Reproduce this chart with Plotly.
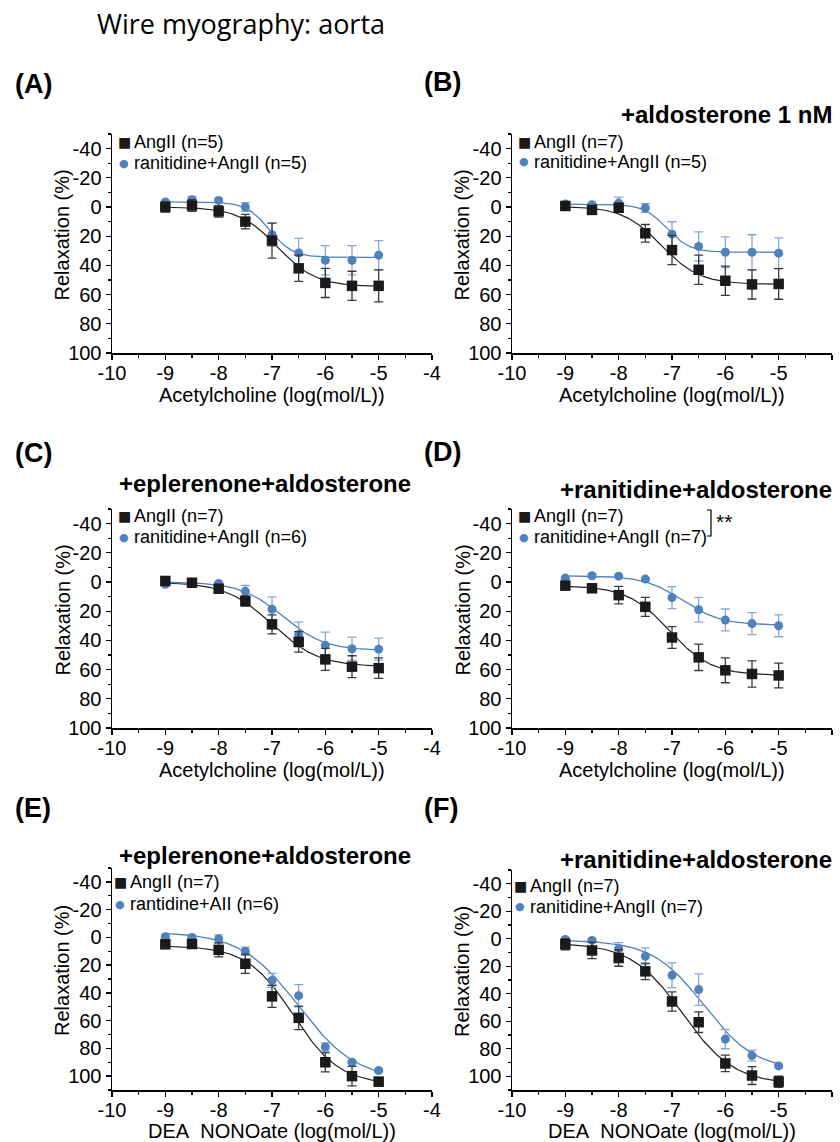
import numpy as np
import plotly.graph_objects as go

W, H = 840, 1142

# ---------------- data ----------------
doses = [-9, -8.5, -8, -7.5, -7, -6.5, -6, -5.5, -5]

x_ticks = [-10, -9, -8, -7, -6, -5, -4]
x_ticklabels = ["-10", "-9", "-8", "-7", "-6", "-5", "-4"]
y_ticks = [-40, -20, 0, 20, 40, 60, 80, 100]
y_ticklabels = ["-40", "-20", "0", "20", "40", "60", "80", "100"]

# Panel A
a_ang = [0, -1, 3, 10, 23, 42, 52, 54, 54]
a_ang_err = [3.5, 4, 4, 5, 12, 9, 10, 10, 11]
a_ran = [-3.5, -5, -4.5, 0, 19, 31.5, 36.5, 36.5, 33]
a_ran_err = [1, 2, 1, 3, 8, 10, 10, 10, 10]
a_ang_fit = [0, 54.5, -6.9, 1.2]      # top, bottom, logEC50, hill
a_ran_fit = [-3.5, 34.5, -7.05, 2.0]

# Panel B
b_ang = [-0.7, 2, 0.5, 18, 29.5, 43, 50.5, 53, 52.7]
b_ang_err = [2, 2, 3, 6, 10, 10, 10, 10, 10.5]
b_ran = [-2, -1.6, -2.7, 0.7, 18.6, 27, 31, 31, 31.6]
b_ran_err = [1, 1, 4, 3, 8.5, 10, 10.5, 12, 10.5]
b_ang_fit = [-0.5, 53, -7.2, 1.2]
b_ran_fit = [-2, 31, -7.1, 2.0]

# Panel C
c_ang = [-0.7, 0.5, 4.6, 13, 29, 41, 53, 58, 59]
c_ang_err = [1, 1, 2, 3.5, 6.5, 7, 7.5, 7.5, 7]
c_ran = [1.6, 0.2, 1, 6.4, 18.7, 36, 43.4, 45.7, 46]
c_ran_err = [1, 1, 1, 4, 8.5, 8.5, 9, 8, 7.5]
c_ang_fit = [0, 58, -7.0, 1.0]
c_ran_fit = [0, 47, -6.8, 1.1]

# Panel D
d_ang = [2.5, 4.3, 9, 17, 38, 51.6, 60.5, 63, 64]
d_ang_err = [2, 2, 6, 6.5, 7.5, 9, 8.5, 9, 8.5]
d_ran = [-2.7, -4.3, -4, -2, 10.7, 19, 26, 28.5, 30]
d_ran_err = [1, 1, 1, 1, 7.5, 8.5, 7.5, 7.5, 7.5]
d_ang_fit = [2.5, 64, -7.05, 1.1]
d_ran_fit = [-4.3, 29.5, -6.8, 1.2]

# Panel E
e_ang = [5, 4.8, 9, 19, 42.5, 58, 90, 100, 104]
e_ang_err = [2, 2, 5, 7, 8, 8.5, 7, 7, 3]
e_ran = [-0.5, 0, 1.2, 10, 31, 42, 79, 90, 96]
e_ran_err = [1, 1, 3, 3, 5, 8, 3, 1, 1]
e_ang_fit = [6, 106, -6.6, 1.0]
e_ran_fit = [-4, 103, -6.5, 0.8]

# Panel F
f_ang = [4, 8.5, 14, 23.7, 45.6, 60.7, 90.7, 99.5, 104]
f_ang_err = [4, 6, 6, 6, 7, 7.5, 6, 6.5, 4]
f_ran = [0.5, 1.2, 7.3, 12.7, 26.6, 37, 73, 85, 92.5]
f_ran_err = [1, 1, 4.5, 6, 9, 11.5, 7, 4, 1]
f_ang_fit = [3, 106, -6.8, 0.9]
f_ran_fit = [1, 96, -6.4, 0.9]

panel_labels = ["(A)", "(B)", "(C)", "(D)", "(E)", "(F)"]
subtitles = ["", "+aldosterone 1 nM", "+eplerenone+aldosterone",
             "+ranitidine+aldosterone", "+eplerenone+aldosterone",
             "+ranitidine+aldosterone"]
legend_ang = ["AngII (n=5)", "AngII (n=7)", "AngII (n=7)", "AngII (n=7)",
              "AngII (n=7)", "AngII (n=7)"]
legend_ran = ["ranitidine+AngII (n=5)", "ranitidine+AngII (n=5)",
              "ranitidine+AngII (n=6)", "ranitidine+AngII (n=7)",
              "rantidine+AII (n=6)", "ranitidine+AngII (n=7)"]
x_titles = ["Acetylcholine (log(mol/L))"] * 4 + ["DEA\u00a0 NONOate (log(mol/L))"] * 2
y_title = "Relaxation (%)"
main_title = "Wire myography: aorta"

ang_series = [a_ang, b_ang, c_ang, d_ang, e_ang, f_ang]
ang_errs = [a_ang_err, b_ang_err, c_ang_err, d_ang_err, e_ang_err, f_ang_err]
ran_series = [a_ran, b_ran, c_ran, d_ran, e_ran, f_ran]
ran_errs = [a_ran_err, b_ran_err, c_ran_err, d_ran_err, e_ran_err, f_ran_err]
ang_fits = [a_ang_fit, b_ang_fit, c_ang_fit, d_ang_fit, e_ang_fit, f_ang_fit]
ran_fits = [a_ran_fit, b_ran_fit, c_ran_fit, d_ran_fit, e_ran_fit, f_ran_fit]

# ---------------- styling / layout ----------------
FONT = "Liberation Sans, Arial, sans-serif"
BLACK = "#1a1a1a"
BLUE = "#4f81bd"
BLUE_ERR = "#86a8d6"
GREY_ERR = "#3a3a3a"

# plot-area pixel boxes (left, right, top, bottom)
boxes = [
    (112, 432, 134, 353), (512, 832, 134, 353),
    (112, 432, 509, 728), (512, 832, 509, 728),
    (112, 432, 868, 1090), (512, 832, 870, 1090),
]
y_ranges = [[100, -50]] * 4 + [[110, -50]] * 2
x_title_gap = [42, 42, 42, 42, 41, 41]


def px(x):
    return x / W


def py(y):
    return 1 - y / H


def logistic(p, xs):
    top, bottom, ec50, hill = p
    return top + (bottom - top) / (1 + 10 ** ((ec50 - xs) * hill))


xs_fit = np.linspace(min(doses), max(doses), 200)

fig = go.Figure()
layout = dict(width=W, height=H, margin=dict(l=0, r=0, t=0, b=0, autoexpand=False),
              paper_bgcolor="white", plot_bgcolor="white", showlegend=False,
              font=dict(family=FONT, color="black"))
annotations = []
shapes = []

for i in range(6):
    n = "" if i == 0 else str(i + 1)
    xa, ya = "x" + n, "y" + n
    l, r, t, b = boxes[i]
    # fitted curves
    fig.add_trace(go.Scatter(x=xs_fit, y=logistic(ang_fits[i], xs_fit), mode="lines",
                             line=dict(color="#222222", width=1.2), xaxis=xa, yaxis=ya,
                             hoverinfo="skip"))
    fig.add_trace(go.Scatter(x=xs_fit, y=logistic(ran_fits[i], xs_fit), mode="lines",
                             line=dict(color=BLUE, width=1.3), xaxis=xa, yaxis=ya,
                             hoverinfo="skip"))
    # data points
    fig.add_trace(go.Scatter(x=doses, y=ran_series[i], mode="markers",
                             marker=dict(symbol="circle", size=9, color=BLUE),
                             error_y=dict(type="data", array=ran_errs[i], color=BLUE_ERR,
                                          thickness=1.3, width=4.5),
                             xaxis=xa, yaxis=ya, name=legend_ran[i]))
    fig.add_trace(go.Scatter(x=doses, y=ang_series[i], mode="markers",
                             marker=dict(symbol="square", size=10.5, color=BLACK),
                             error_y=dict(type="data", array=ang_errs[i], color=GREY_ERR,
                                          thickness=1.3, width=4.5),
                             xaxis=xa, yaxis=ya, name=legend_ang[i]))

    layout["xaxis" + n] = dict(
        domain=[px(l), px(r)], anchor=ya, range=[-10, -4], automargin=False,
        tickmode="array", tickvals=x_ticks, ticktext=x_ticklabels,
        ticks="outside", ticklen=5, tickwidth=1.3, tickcolor="black",
        ticklabelstandoff=-4,
        minor=dict(dtick=0.5, tick0=0, ticks="outside", ticklen=3,
                   tickwidth=1.2, tickcolor="black"),
        showline=True, linecolor="black", linewidth=1.5,
        showgrid=False, zeroline=False,
        tickfont=dict(family=FONT, size=20, color="black"),
    )
    layout["yaxis" + n] = dict(
        domain=[py(b), py(t)], anchor=xa, range=y_ranges[i], automargin=False,
        tickmode="array", tickvals=y_ticks, ticktext=y_ticklabels,
        ticks="outside", ticklen=5, tickwidth=1.3, tickcolor="black",
        minor=dict(dtick=10, tick0=0, ticks="outside", ticklen=3,
                   tickwidth=1.2, tickcolor="black"),
        showline=True, linecolor="black", linewidth=1.5,
        showgrid=False, zeroline=False,
        tickfont=dict(family=FONT, size=20, color="black"),
    )
    # axis titles
    annotations.append(dict(text=x_titles[i], x=px((l + r) / 2), y=py(b + x_title_gap[i]),
                            xref="paper", yref="paper", xanchor="center", yanchor="middle",
                            showarrow=False, font=dict(family=FONT, size=20, color="black")))
    annotations.append(dict(text=y_title, x=px(l - 50), y=py((t + b) / 2 - 8),
                            xref="paper", yref="paper", xanchor="center", yanchor="middle",
                            textangle=-90, showarrow=False,
                            font=dict(family=FONT, size=20, color="black")))

# panel labels
label_pos = [(13, 84), (422, 82), (13, 453), (422, 452), (13, 808), (422, 808)]
for lab, (x, y) in zip(panel_labels, label_pos):
    annotations.append(dict(text="<b>%s</b>" % lab, x=px(x), y=py(y), xref="paper",
                            yref="paper", xanchor="left", yanchor="middle",
                            showarrow=False, font=dict(family=FONT, size=27, color="black")))

# subtitles
sub_pos = [None, (834, 115, "right"), (117, 483, "left"), (834, 489, "right"),
           (117, 855, "left"), (834, 859, "right")]
for txt, pos in zip(subtitles, sub_pos):
    if pos is None:
        continue
    x, y, anc = pos
    annotations.append(dict(text="<b>%s</b>" % txt, x=px(x), y=py(y), xref="paper",
                            yref="paper", xanchor=anc, yanchor="middle",
                            showarrow=False, font=dict(family=FONT, size=24, color="black")))

# legends (glyph + text)
leg_pos = [(124, 142, 163), (524, 142, 162), (124, 516, 537), (524, 516, 537),
           (120, 882, 904), (520, 886, 907)]
for i, (mx, y1, y2) in enumerate(leg_pos):
    annotations.append(dict(text="\u25A0", x=px(mx), y=py(y1), xref="paper", yref="paper",
                            xanchor="center", yanchor="middle", showarrow=False,
                            font=dict(family="DejaVu Sans", size=14, color=BLACK)))
    annotations.append(dict(text="\u25CF", x=px(mx), y=py(y2), xref="paper", yref="paper",
                            xanchor="center", yanchor="middle", showarrow=False,
                            font=dict(family="DejaVu Sans", size=11, color=BLUE)))
    annotations.append(dict(text=legend_ang[i], x=px(mx + 8), y=py(y1), xref="paper",
                            yref="paper", xanchor="left", yanchor="middle", showarrow=False,
                            font=dict(family=FONT, size=18, color="black")))
    annotations.append(dict(text=legend_ran[i], x=px(mx + 8), y=py(y2), xref="paper",
                            yref="paper", xanchor="left", yanchor="middle", showarrow=False,
                            font=dict(family=FONT, size=18, color="black")))

# significance bracket in panel D
shapes.append(dict(type="path", xref="paper", yref="paper",
                   path="M %f %f L %f %f L %f %f L %f %f" % (
                       px(707), py(510), px(711), py(510), px(711), py(536), px(707), py(536)),
                   line=dict(color="black", width=1.2)))
annotations.append(dict(text="**", x=px(714), y=py(521), xref="paper", yref="paper",
                        xanchor="left", yanchor="middle", showarrow=False,
                        font=dict(family=FONT, size=21, color="black")))

# main title
annotations.append(dict(text=main_title, x=px(95), y=py(23), xref="paper", yref="paper",
                        xanchor="left", yanchor="middle", showarrow=False,
                        font=dict(family="Open Sans, Noto Sans, sans-serif", size=27,
                                  color="black")))

layout["annotations"] = annotations
layout["shapes"] = shapes
fig.update_layout(**layout)
fig.write_html("out.html", config={"displayModeBar": False, "staticPlot": True},
               post_script="document.body.style.margin='0';"
                           "document.body.style.overflow='hidden';")
